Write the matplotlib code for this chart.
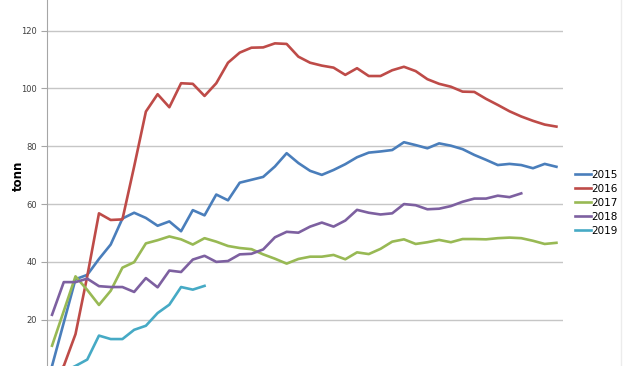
import matplotlib
matplotlib.use("Agg")
import matplotlib.pyplot as plt
import numpy as np

# weekly values (tonn)
weeks = np.arange(44)
y2015 = [4, 19, 34, 35.5, 41, 46, 55, 57, 55.2, 52.5, 54, 50.6, 57.9, 56.1, 63.3, 61.3,
         67.4, 68.4, 69.4, 73, 77.6, 74.2, 71.5, 70.1, 71.8, 73.8, 76.2, 77.8, 78.2, 78.7,
         81.4, 80.4, 79.3, 81, 80.2, 79, 77, 75.3, 73.5, 73.9, 73.5, 72.4, 73.9, 72.9]
y2016 = [0, 4, 15, 35, 56.8, 54.5, 54.7, 73, 92, 98, 93.5, 101.8, 101.6, 97.4, 101.8, 108.9,
         112.4, 114.1, 114.2, 115.6, 115.4, 111, 108.9, 107.9, 107.2, 104.7, 107, 104.3, 104.3,
         106.3, 107.5, 106, 103.2, 101.6, 100.6, 98.9, 98.8, 96.4, 94.3, 92.1, 90.3, 88.8, 87.5, 86.8]
y2017 = [11, 23, 35, 30.3, 25.1, 30, 38, 39.9, 46.4, 47.5, 48.8, 47.8, 46, 48.2, 47, 45.5,
         44.8, 44.4, 42.6, 41.1, 39.4, 41, 41.8, 41.8, 42.4, 40.9, 43.3, 42.7, 44.5, 47,
         47.8, 46.2, 46.8, 47.6, 46.8, 47.9, 47.9, 47.8, 48.2, 48.4, 48.2, 47.3, 46.2, 46.6]
y2018 = [21.7, 33, 33, 34.2, 31.6, 31.3, 31.3, 29.6, 34.4, 31.2, 37, 36.5, 40.8, 42.1, 40,
         40.3, 42.6, 42.8, 44.3, 48.5, 50.4, 50.1, 52.2, 53.6, 52.2, 54.3, 58, 57, 56.4, 56.8,
         60, 59.6, 58.2, 58.4, 59.3, 60.8, 61.9, 61.9, 62.9, 62.4, 63.7]
y2019 = [1, 2, 4, 6.2, 14.5, 13.3, 13.3, 16.5, 17.9, 22.3, 25.2, 31.3, 30.4, 31.7]

series = [("2015", y2015, "#4a7ebb"), ("2016", y2016, "#be4b48"),
          ("2017", y2017, "#98b954"), ("2018", y2018, "#7d60a0"),
          ("2019", y2019, "#46aac5")]
yticks = [20, 40, 60, 80, 100, 120]

fig = plt.figure(figsize=(6.32, 3.66), dpi=100)
ax = fig.add_axes([47 / 632, 0, (563 - 47) / 632, 1])

for label, vals, col in series:
    ax.plot(weeks[:len(vals)], vals, color=col, lw=1.9, label=label, solid_joinstyle="round")

ax.set_xlim(-0.43, 43.56)
ax.set_ylim(3.98, 130.6)
ax.set_yticks(yticks)
ax.yaxis.grid(True, color="#c6c6c6", lw=1.0)
ax.set_axisbelow(True)
ax.set_xticks([])
for s in ["top", "right", "bottom"]:
    ax.spines[s].set_visible(False)
ax.spines["left"].set_color("#a6a6a6")
ax.tick_params(axis="y", length=4, width=0.8, color="#a6a6a6", labelsize=6,
               labelcolor="#404040", pad=3)

fig.text(18 / 632, 1 - 176 / 366, "tonn", rotation=90, fontsize=8.5, fontweight="bold",
         ha="center", va="center")

ax.legend(loc="upper left", bbox_to_anchor=(575 / 632, 1 - 170 / 366),
          bbox_transform=fig.transFigure, frameon=False, fontsize=7.5,
          handlelength=1.5, handletextpad=0.1, labelspacing=0.38,
          borderaxespad=0, borderpad=0)

fig.add_artist(plt.Line2D([621 / 632, 621 / 632], [0, 1], color="#ececec", lw=1,
                          transform=fig.transFigure))

fig.savefig("out.png", dpi=100)
